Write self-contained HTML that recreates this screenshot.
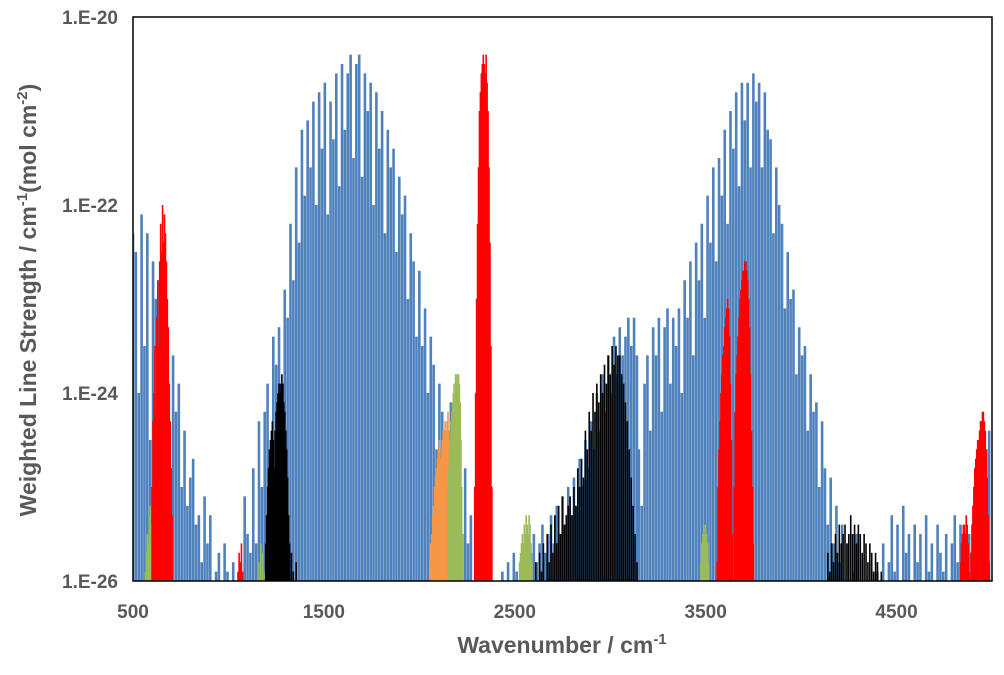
<!DOCTYPE html>
<html><head><meta charset="utf-8">
<style>
body{margin:0;background:#fff;width:1004px;height:670px;overflow:hidden;font-family:"Liberation Sans",sans-serif;}
svg text{font-family:"Liberation Sans",sans-serif;font-weight:bold;fill:#595959;}
</style></head>
<body>
<svg id="chart" width="1004" height="670" xmlns="http://www.w3.org/2000/svg">
<defs><clipPath id="pc"><rect x="133" y="17" width="859" height="564"/></clipPath></defs>
<g id="marks" clip-path="url(#pc)"></g>
<rect x="133" y="17" width="859" height="564" fill="none" stroke="#000" stroke-width="1.5"/>
<g id="yticks"></g>
<g id="xticks"></g>
<text x="562" y="653" font-size="23" text-anchor="middle">Wavenumber / cm<tspan font-size="15" dy="-9">-1</tspan></text>
<text transform="translate(36,300) rotate(-90)" font-size="23" text-anchor="middle">Weighted Line Strength / cm<tspan font-size="15" dy="-9">-1</tspan><tspan dy="9">(mol cm</tspan><tspan font-size="15" dy="-9">-2</tspan><tspan dy="9">)</tspan></text>
</svg>
<script>
const xTicks=[500,1500,2500,3500,4500];
const yTicks=[-20,-22,-24,-26];
const yTickLabels=["1.E-20","1.E-22","1.E-24","1.E-26"];
const blueA=[-22.3,-22.5,-24,-22.1,-23.5,-22.3,-24.5,-22.6,-23,-22.8,-24,-23.2,-23.5,-24.8,-23.6,-24.2,-23.9,-25,-24.4,-25.2,-24.9,-24.7,-25.4,-25.3,-25.8,-25.1,-25.6,-25.3,-26,-25.9,-25.7,-26,-25.6,-25.9,-26,-25.8,-26,-25.9,-26,-25.1,-25.5,-25.7,-24.8,-25.6];
const blueB=[-24.3,-25,-24.2,-23.9,-24.8,-23.4,-23.7,-23.3,-24.1,-22.9,-23.2,-22.2,-22.8,-21.6,-22.4,-21.2,-21.9,-21.1,-21.6,-20.9,-22,-20.8,-21.4,-20.7,-22.1,-20.9,-21.3,-20.6,-21.8,-20.5,-21.2,-20.6,-20.4,-21.5,-20.5,-20.4,-21.7,-20.6,-21,-20.7,-22,-20.8,-21.4,-21,-22.3,-21.2,-21.6,-21.4,-22.5,-21.7,-22.1,-21.9,-23,-22.3,-22.6,-23.4,-22.7,-23.5,-23.1,-24,-23.4,-23.7,-24.6,-23.9,-24.2,-25,-24.4,-24.1,-25.2,-24.6,-24.9,-25.5,-24.8,-25.6,-25.3,-26,-25.5,-25.8,-26,-25.9,-26,-26,-26,-26];
const blueC=[-24.6,-25.2,-23.9,-23.6,-24.4,-23.3,-23.6,-23.2,-24.2,-23.3,-23.1,-23.9,-23.2,-23.5,-23.1,-24,-22.8,-23.2,-22.6,-23.6,-22.4,-22.8,-22.2,-23.2,-21.9,-22.4,-21.6,-22.6,-21.5,-21.9,-21.2,-22.2,-21,-21.4,-20.8,-21.8,-20.7,-21.1,-20.7,-21.6,-20.6,-20.9,-20.7,-21.6,-20.8,-21.2,-21.3,-22.3,-21.6,-22,-22.2,-23.1,-22.5,-23,-22.9,-23.8,-23.3,-23.6,-23.5,-24.4,-23.8,-24.2,-24.1,-25,-24.3,-24.8,-25.4,-24.9,-25.6,-25.2,-25.8,-25.4,-26,-25.6,-26,-25.9,-25.5];
const blueD=[-25.9,-26,-25.6,-26,-25.8,-25.3,-25.9,-25.4,-26,-25.2,-25.7,-25.5,-26,-25.4,-25.8,-25.5,-26,-25.3,-25.9,-25.6,-26,-25.4,-25.7,-25.9,-25.5,-26,-25.6,-25.3,-25.8,-25.4,-26,-25.9,-25.5,-25.7,-25.6,-25.4,-25.2,-25,-24.6,-24.4];
const blueE=[-26,-25.9,-26,-25.8,-26,-25.7,-25.9,-26,-25.8,-25.6,-25.9,-25.7,-25.5,-25.8,-25.6,-25.4,-25.7,-25.5,-25.3,-25.6,-25.2,-25.5,-25.1,-25.4,-25,-25.3,-24.9,-25.2,-24.7,-25,-24.5,-24.8,-24.3,-24.6,-24,-24.4,-23.8,-24.2,-23.6,-24,-23.4,-23.8,-23.3,-23.6,-23.4,-23.2,-23.5,-23.2,-23.6];
const red1=[-25,-24.3,-24,-23.5,-24.2,-23.2,-22.8,-23.5,-22.6,-22.2,-22.5,-22,-22.4,-22.1,-22.3,-22.6,-23,-23.3,-23.9,-24.3,-24.8,-25.3,-26];
const red2=[-25,-24,-23,-22.2,-21.6,-21,-20.8,-20.6,-20.5,-20.4,-20.5,-20.6,-20.4,-20.7,-21,-21.6,-22.4,-23.5,-25];
const red3=[-25.8,-25,-24.6,-24.3,-24,-23.8,-23.6,-23.5,-23.3,-23.2,-23.1,-23,-23.1,-23.4,-23.9,-24.5,-25.5,-26,-25,-24.2,-23.8,-23.6,-23.4,-23.2,-23,-22.9,-22.8,-22.7,-22.7,-22.6,-22.6,-22.7,-22.8,-23,-23.3,-23.8,-24.4,-25,-25.6,-26,-26];
const red4=[-26,-25.8,-25.6,-25.5,-25.4,-25.4,-25.5,-25.3,-25.4,-25.6,-25.9,-26,-25.7,-25.4,-25.2,-25,-24.8,-24.7,-24.6,-24.5,-24.5,-24.4,-24.3,-24.3,-24.2,-24.2,-24.3,-24.4,-24.6,-24.9,-25.3,-25.8,-26,-26];
const red5=[-25.9,-25.7,-25.8,-25.6,-25.9];
const black1=[-26,-25.6,-25.3,-25,-24.8,-24.6,-24.5,-24.4,-24.3,-24.5,-24.8,-24.4,-24.2,-24.1,-24,-23.9,-24,-23.9,-23.8,-23.9,-24.1,-24.2,-24.4,-24.6,-24.9,-25.3,-25.6,-26,-25.7,-26,-25.9,-26,-26,-25.8,-26];
const black2=[-26,-25.8,-26,-25.7,-25.9,-25.6,-26,-25.5,-25.8,-25.4,-25.7,-25.3,-25.6,-25.2,-25.5,-25.1,-25.4,-25.3,-25.2,-25.1,-25.3,-25,-25.2,-24.8,-25,-24.7,-24.9,-24.4,-24.6,-24.2,-24.4,-24,-24.2,-23.9,-24.1,-23.8,-24,-23.7,-23.9,-23.6,-23.8,-23.5,-23.7,-23.5,-23.6,-23.6,-23.8,-23.9,-24.1,-24.3,-24.6,-24.9,-25.2,-25.5,-25.8,-26,-26,-26,-26];
const black3=[-26,-25.7,-25.9,-25.6,-25.8,-25.5,-25.7,-25.4,-25.6,-25.5,-25.4,-25.6,-25.5,-25.3,-25.5,-25.4,-25.6,-25.4,-25.5,-25.7,-25.5,-25.6,-25.8,-25.6,-25.7,-25.9,-25.7,-25.8,-26,-25.9,-26,-26,-26];
const green1=[-26,-25.9,-25.7,-25.5,-25.6,-25.3,-25.2,-25.4,-25.6,-25.8,-26,-26,-26];
const green2=[-25,-24.8,-24.6,-24.5,-24.3,-24.2,-24.1,-24,-23.9,-24.2,-23.8,-23.9,-23.8,-24,-23.8,-23.9,-24.1,-24.5,-25,-25.5,-26];
const green3=[-26,-25.8,-25.7,-25.6,-25.5,-25.6,-25.4,-25.5,-25.3,-25.4,-25.5,-25.3,-25.4,-25.6,-25.8,-26,-26];
const green4=[-26,-25.8,-25.6,-25.5,-25.4,-25.5,-25.4,-25.5,-25.6,-25.8,-26,-26,-26];
const green5=[-25.8,-25.6,-25.7,-25.9];
const orange1=[-26,-25.8,-25.6,-25.5,-25.3,-25.2,-25,-24.9,-24.8,-24.7,-24.6,-24.5,-24.7,-24.6,-24.5,-24.4,-24.4,-24.3,-24.4,-24.3,-24.2,-24.4,-24.5,-24.8,-25.2,-25.7,-26];

const X0=133,X1=992,Y0=17,Y1=581;
function xs(w){return X0+(w-500)/4500*(X1-X0);}
function ys(e){return Y0+(-20-e)/6*(Y1-Y0);}
const NS="http://www.w3.org/2000/svg";
const marks=document.getElementById('marks');
function band(name,vals,start,step,color,sw){
  const g=document.createElementNS(NS,'g');
  
  
  g.setAttribute('stroke',color);g.setAttribute('stroke-width',sw);
  vals.forEach((v,i)=>{
    const x=xs(start+i*step);
    const l=document.createElementNS(NS,'line');
    
    
    l.setAttribute('x1',x);l.setAttribute('x2',x);
    l.setAttribute('y1',Y1+2);l.setAttribute('y2',ys(v));
    g.appendChild(l);
  });
  marks.appendChild(g);
}
const BL="#4f81bd";
band('blue-band-a',blueA,500,15,BL,2.6);
band('blue-band-b',blueB,1160,15,BL,2.6);
band('blue-band-e',blueE,2420,15,BL,2.6);
band('blue-band-c',blueC,3150,15,BL,2.6);
band('blue-band-d',blueD,4400,15,BL,2.6);
band('orange-band',orange1,2050,5,"#f79646",1.6);
band('green-band-1',green1,560,5,"#9bbb59",1.6);
band('green-band-2',green2,2150,4,"#9bbb59",1.6);
band('green-band-3',green3,2520,5,"#9bbb59",1.6);
band('green-band-4',green4,3470,5,"#9bbb59",1.6);
band('green-band-5',green5,1160,10,"#9bbb59",1.6);
band('red-band-1',red1,600,5,"#ff0000",1.6);
band('red-band-2',red2,2290,5,"#ff0000",1.6);
band('red-band-3',red3,3560,5,"#ff0000",1.6);
band('red-band-4',red4,4830,5,"#ff0000",1.6);
band('red-band-5',red5,1050,6,"#ff0000",1.6);
band('black-band-1',black1,1190,5,"#000",1.6);
band('black-band-2',black2,2600,10,"#000",1.6);
band('black-band-3',black3,4130,10,"#000",1.6);

const yt=document.getElementById('yticks');
yTicks.forEach((t,i)=>{
  const tx=document.createElementNS(NS,'text');
  
  
  tx.setAttribute('x',118);tx.setAttribute('y',ys(t)+7);
  tx.setAttribute('text-anchor','end');tx.setAttribute('font-size','19');
  tx.textContent=yTickLabels[i];yt.appendChild(tx);
});
const xt=document.getElementById('xticks');
xTicks.forEach(t=>{
  const tx=document.createElementNS(NS,'text');
  
  
  tx.setAttribute('x',xs(t));tx.setAttribute('y',618);
  tx.setAttribute('text-anchor','middle');tx.setAttribute('font-size','19');
  tx.textContent=t;xt.appendChild(tx);
});
</script>
</body></html>
